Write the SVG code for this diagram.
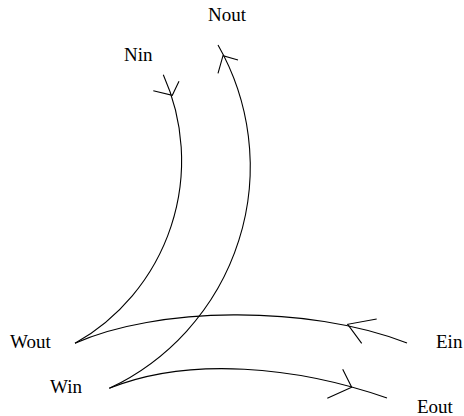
<svg xmlns="http://www.w3.org/2000/svg" width="464" height="416" viewBox="0 0 464 416">
  <style>
    .lbl { font-family: "Liberation Serif", "Times New Roman", serif; font-size: 19px; fill: #000; }
    .lane { fill: none; stroke: #000; stroke-width: 1.1; }
    .head { fill: none; stroke: #000; stroke-width: 1.1; stroke-linejoin: miter; }
  </style>
  <rect width="464" height="416" fill="#fff"/>

  <!-- terminal labels -->
  <g id="Nout"><text class="lbl" x="208" y="21">Nout</text></g>
  <g id="Nin"><text class="lbl" x="124" y="61">Nin</text></g>
  <g id="Wout"><text class="lbl" x="10" y="348">Wout</text></g>
  <g id="Win"><text class="lbl" x="50" y="393">Win</text></g>
  <g id="Ein"><text class="lbl" x="436" y="348">Ein</text></g>
  <g id="Eout"><text class="lbl" x="417" y="413">Eout</text></g>

  <!-- lanes with open arrowheads part way along -->
  <g id="connectors">
    <!-- Nin to Wout -->
    <path class="lane" d="M75,343.3 A210,210 0 0 0 163.3,74.7"/>
    <path class="head" d="M153.3,90.7 L172.3,95.3 L179,81.3"/>
    <!-- Win to Nout -->
    <path class="lane" d="M109.3,388.3 A245,245 0 0 0 218,45"/>
    <path class="head" d="M238,60 L223,55.7 L218,73.3"/>
    <!-- Ein to Wout -->
    <path class="lane" d="M75,343.3 C155,307 307,304 407,343"/>
    <path class="head" d="M376.7,319 L347.7,324.3 L361.7,343.3"/>
    <!-- Win to Eout -->
    <path class="lane" d="M109.3,388.3 C189,356 297,366.5 387,398"/>
    <path class="head" d="M342.7,369.3 L351.7,387.3 L327.3,398.3"/>
  </g>
</svg>
